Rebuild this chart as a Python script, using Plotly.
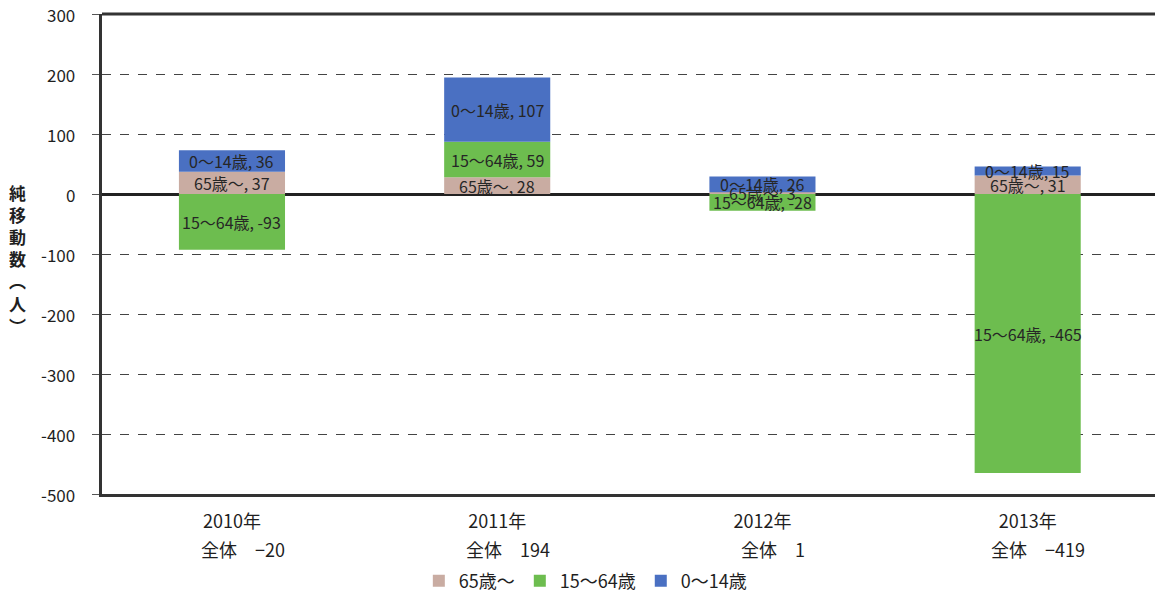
import plotly.graph_objects as go

# Net migration by age group, 2010-2013
years = ["2010年", "2011年", "2012年", "2013年"]
series_names = ["65歳～", "15～64歳", "0～14歳"]
age65 = [37, 28, 3, 31]
age15_64 = [-93, 59, -28, -465]
age0_14 = [36, 107, 26, 15]
y_ticks = [300, 200, 100, 0, -100, -200, -300, -400, -500]

colors = ["#c9aca2", "#6dbd4f", "#4a70c2"]
series_values = [age65, age15_64, age0_14]
totals = [sum(v) for v in zip(*series_values)]

FONT = "Noto Sans CJK JP"
TEXT = "#1f1f1f"
x_idx = list(range(len(years)))

fig = go.Figure()
for name, vals, col in zip(series_names, series_values, colors):
    fig.add_trace(go.Bar(
        x=x_idx, y=vals, name=name, width=0.4,
        marker=dict(color=col, line=dict(width=0)),
        hoverinfo="skip",
    ))

# segment labels at the middle of each stacked piece
annotations = []
pos_base = [0] * len(years)
neg_base = [0] * len(years)
for name, vals in zip(series_names, series_values):
    for i, v in enumerate(vals):
        if v >= 0:
            mid = pos_base[i] + v / 2
            pos_base[i] += v
        else:
            mid = neg_base[i] + v / 2
            neg_base[i] += v
        annotations.append(dict(
            x=i, y=mid, xref="x", yref="y", text=f"{name}, {v}",
            showarrow=False, font=dict(family=FONT, size=16, color="#262626"),
        ))

# totals under each year label
for i, t in enumerate(totals):
    shown = f"−{abs(t)}" if t < 0 else f"{t}"
    annotations.append(dict(
        x=i + 0.04, y=0, xref="x", yref="paper", yanchor="top",
        text=f"全体　{shown}", showarrow=False, yshift=-40,
        font=dict(family=FONT, size=18, color=TEXT),
    ))

# y tick labels, set a little away from the axis
for v in y_ticks:
    annotations.append(dict(
        x=-0.024, y=v, xref="paper", yref="y", xanchor="right",
        text=str(v), showarrow=False,
        font=dict(family=FONT, size=17, color=TEXT),
    ))

# vertical axis title
annotations.append(dict(
    x=-0.09, y=0.49, xref="paper", yref="paper",
    text="<b>純<br>移<br>動<br>数<br>︵<br>人<br>︶</b>",
    showarrow=False, font=dict(family=FONT, size=17, color=TEXT),
))

fig.update_layout(
    width=1155, height=597,
    margin=dict(l=102, r=0, t=14, b=103, autoexpand=False),
    paper_bgcolor="white", plot_bgcolor="white",
    barmode="relative", bargap=0.6,
    font=dict(family=FONT, color=TEXT),
    showlegend=True,
    legend=dict(
        orientation="h", x=0.459, xanchor="center", y=-0.143, yanchor="top",
        font=dict(family=FONT, size=18, color=TEXT),
        traceorder="normal", itemwidth=30,
    ),
    annotations=annotations,
    xaxis=dict(
        tickmode="array", tickvals=x_idx, ticktext=years,
        range=[-0.49, 3.48], showgrid=False, zeroline=False,
        showline=True, linecolor="#333333", linewidth=3,
        ticks="", ticklabelstandoff=9,
        tickfont=dict(family=FONT, size=18, color=TEXT),
        fixedrange=True,
    ),
    yaxis=dict(
        range=[-500, 300], tickmode="array", tickvals=y_ticks,
        showticklabels=False,
        showgrid=True, gridcolor="#444444", griddash="dash", gridwidth=1,
        zeroline=True, zerolinecolor="#222222", zerolinewidth=3,
        showline=True, linecolor="#333333", linewidth=3,
        ticks="outside", ticklen=7, tickcolor="#555555",
        fixedrange=True,
    ),
)

# top frame line
fig.add_shape(type="line", xref="paper", yref="paper", x0=0, x1=1, y0=1, y1=1,
              line=dict(color="#333333", width=3))

fig.write_html("out.html")
